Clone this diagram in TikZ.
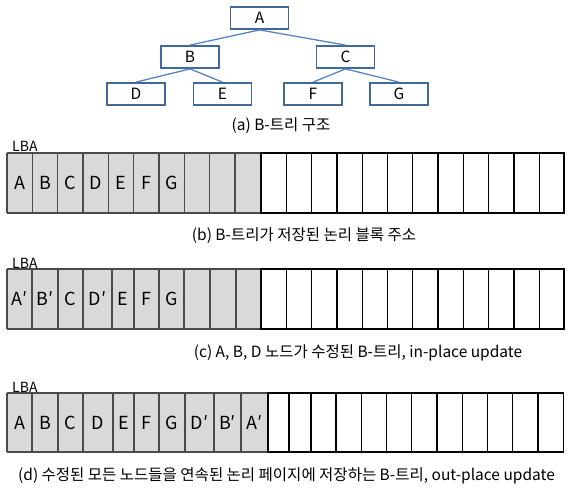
\documentclass[tikz,border=0pt]{standalone}
\usepackage{fontspec}
\setmainfont{Noto Sans CJK KR}
\begin{document}
\begin{tikzpicture}[x=1pt,y=-1pt,
  treebox/.style={draw=treeborder,line width=1.8pt,fill=white,minimum width=58pt,minimum height=22pt,inner sep=0pt,font=\fontsize{15.5}{15.5}\selectfont},
  treeedge/.style={draw=treeline,line width=1.3pt},
  caption/.style={font=\fontsize{15.5}{15.5}\selectfont,inner sep=0pt},
  lba/.style={font=\fontsize{14}{14}\selectfont,inner sep=0pt,anchor=west},
  cellname/.style={font=\fontsize{18}{18}\selectfont,inner sep=0pt},
  graysep/.style={draw=graylinecol,line width=1.3pt},
  whitecell/.style={draw=black,line width=1.3pt}]
\definecolor{treeborder}{HTML}{41689A}
\definecolor{treeline}{HTML}{5585C4}
\definecolor{cellgray}{HTML}{D9D9D9}
\definecolor{graylinecol}{HTML}{4A4A4A}
\useasboundingbox (0,0) rectangle (570,488);

% ---- B-tree structure ----
\node[treebox] (A) at (259.5,18) {A};
\node[treebox] (B) at (190,57) {B};
\node[treebox] (C) at (345.5,57) {C};
\node[treebox] (D) at (136,94) {D};
\node[treebox] (E) at (222.5,94) {E};
\node[treebox] (F) at (313,94) {F};
\node[treebox] (G) at (399,94) {G};
\foreach \p/\c in {A/B,A/C,B/D,B/E,C/F,C/G}
  \draw[treeedge] (\p.south) -- (\c.north);
\node[caption] (capa) at (281,126) {(a) B-트리 구조};

% ---- storage rows: #1 top, #2 bottom, #3 boundary list of gray cells, #4 last gray edge, #5 white cells ----
\newcommand{\lbarow}[5]{%
  \fill[cellgray] (7,#1) rectangle (#4,#2);
  \foreach \xb in {#3} \draw[graysep] (\xb,#1) -- (\xb,#2);
  \draw[graysep] (7,#1) -- (#4,#1);
  \draw[draw=graylinecol,line width=2.4pt] (7,#2) -- (#4,#2);
  \foreach \xa/\xb in {#5} \draw[whitecell] (\xa,#1) rectangle (\xb,#2);
}

% (b)
\lbarow{153}{213}{7,32.3,57.6,83,108.3,133.6,159,184.2,209.6,235}{261}
  {261/286.3,286.3/311.6,311.6/336.9,336.9/362.2,362.2/387.5,387.5/412.8,412.8/438.1,438.1/463.4,463.4/488.7,488.7/514,514/539.3,539.3/564}
\node[lba] (lbab) at (12,146.5) {LBA};
\foreach \n/\x in {A/19.7,B/45,C/70.3,D/95.6,E/121,F/146.3,G/171.6}
  \node[cellname] (b\n) at (\x,183) {\n};
\node[caption] (capb) at (304,236) {(b) B-트리가 저장된 논리 블록 주소};

% (c)
\lbarow{269}{329}{7,32,58,83,112,134,159,184,210,236}{261}
  {261/286.3,286.3/311.6,311.6/336.9,336.9/362.2,362.2/387.5,387.5/412.8,412.8/438.1,438.1/463.4,463.4/488.7,488.7/514,514/539.3,539.3/564}
\node[lba] (lbac) at (12,263) {LBA};
\node[cellname] (cA) at (19.5,299) {A′};
\node[cellname] (cB) at (45,299) {B′};
\node[cellname] (cC) at (70.5,299) {C};
\node[cellname] (cD) at (97.5,299) {D′};
\node[cellname] (cE) at (123,299) {E};
\node[cellname] (cF) at (146.5,299) {F};
\node[cellname] (cG) at (171.5,299) {G};
\node[caption] (capc) at (358,353) {(c) A, B, D 노드가 수정된 B-트리, in-place update};

% (d)
\lbarow{393}{452}{7,32,58,83,113,134,159,185,214,241}{268}
  {268/289,289/311,311/336,336/361.2,361.2/386.5,386.5/411.8,411.8/437,437/462.3,462.3/487.6,487.6/512.8,512.8/538,538/563.3}
\node[lba] (lbad) at (12,387) {LBA};
\node[cellname] (dA) at (19.5,423) {A};
\node[cellname] (dB) at (45,423) {B};
\node[cellname] (dC) at (70.5,423) {C};
\node[cellname] (dD) at (98,423) {D};
\node[cellname] (dE) at (123.5,423) {E};
\node[cellname] (dF) at (146.5,423) {F};
\node[cellname] (dG) at (172,423) {G};
\node[cellname] (dD2) at (199.5,423) {D′};
\node[cellname] (dB2) at (227.5,423) {B′};
\node[cellname] (dA2) at (254.5,423) {A′};
\node[caption] (capd) at (286.5,476) {(d) 수정된 모든 노드들을 연속된 논리 페이지에 저장하는 B-트리, out-place update};
\end{tikzpicture}
\end{document}
